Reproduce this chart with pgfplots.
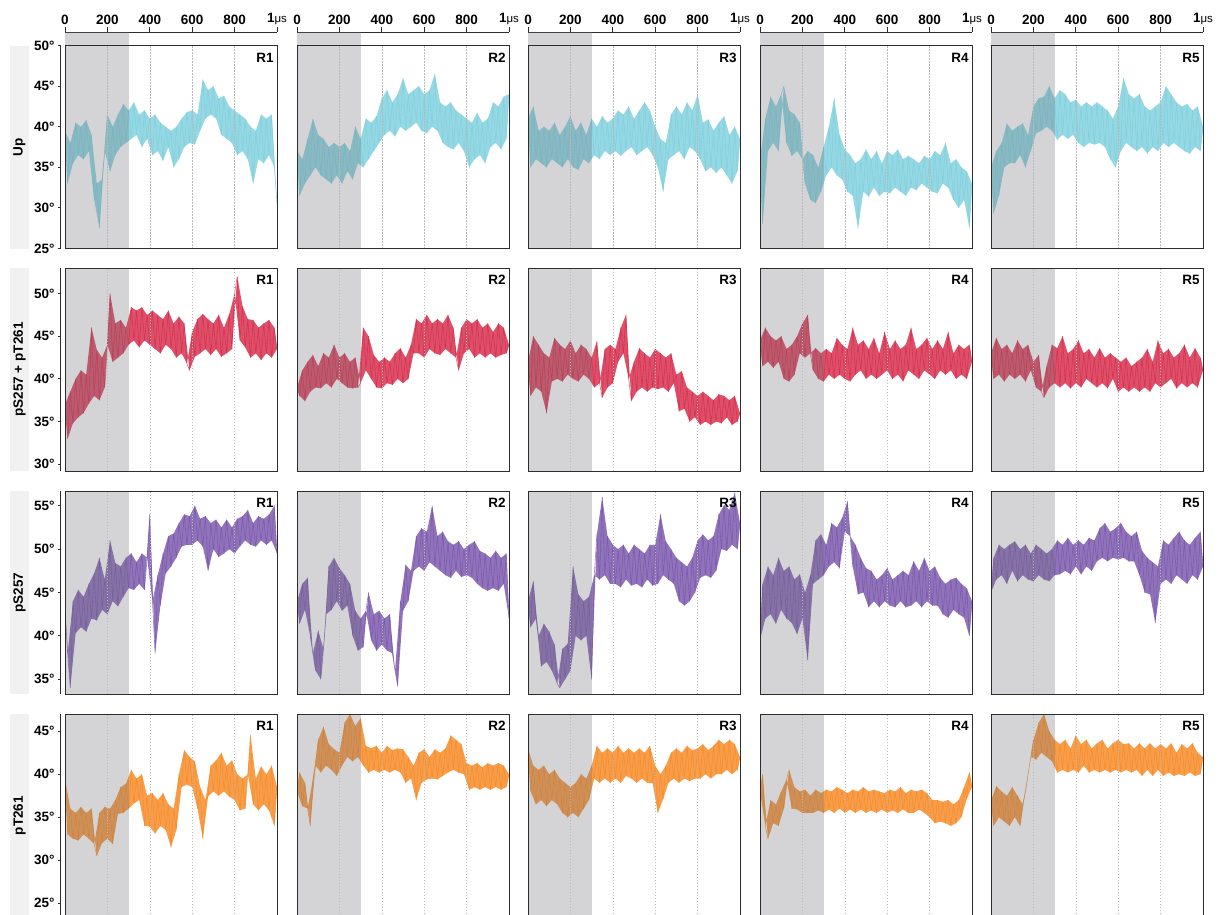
\documentclass[border=0pt]{standalone}
\usepackage{pgfplots}
\pgfplotsset{compat=1.18}
\usepgfplotslibrary{fillbetween}
\usepackage{pgfplotstable}
\usepackage{fontspec}
\setmainfont{Liberation Sans}

\definecolor{cUp}{RGB}{122,206,220}
\definecolor{cPP}{RGB}{213,36,68}
\definecolor{cPS}{RGB}{116,80,168}
\definecolor{cPT}{RGB}{246,134,30}
\definecolor{shadecol}{RGB}{112,114,120}
\definecolor{stripcol}{RGB}{241,241,241}
\definecolor{framecol}{RGB}{45,45,45}

\pgfplotstableread{
x U1 U2 U3 U4 U5
0 39.5 37 41 36 35
12.5 33 31.5 35 28 29.3
25 38 36 42.5 41 37
37.5 35.5 33 36 37 31.5
50 40.5 38.5 39.5 43.7 38
62.5 36.5 34 35.5 38 35
75 40 41 40 42.5 40.4
87.5 36 35 35 37 35.5
100 40.8 39 39.5 44 39.5
112.5 37 34 36 45 35.5
125 39 38.5 40.5 38 40
137.5 31 33.5 35.5 42 36.5
150 33 37.5 39 36.4 40.4
162.5 27.5 33 35 41.5 35
175 33.5 38 40 37 39
187.5 37 34 36 40.5 37
200 41.5 37.5 41.3 36 42.5
212.5 34.5 33 35 33 39.2
225 40 38 39.5 37 43.5
237.5 36.5 34.5 34.7 31 39.5
250 41.5 37 40.5 36.5 43.7
262.5 37.5 33.5 36 30.6 40
275 42.8 40 39 35 45
287.5 38 35.5 35.5 32 39.5
300 42 38.5 41 37.5 43.5
312.5 38.5 35 36.5 34 38.4
325 43 41 40 40 44.5
337.5 39 36 36 35 39
350 41.5 40.5 41.3 43.5 44
362.5 37.5 37 37 34 38.5
375 42 41.3 40.5 39 43
387.5 38.5 38 36.5 33.5 39
400 41 43.5 41 37.2 43.3
412.5 36.5 39 37 32 38
425 41.5 44.5 42 36.5 42.5
437.5 37 39.5 36.4 31.5 37.5
450 40.5 43 41.5 35.5 43
462.5 35.8 38.8 37 27.5 38
475 40 44 42.5 36 42.5
487.5 37.5 40 37.5 32 37.8
500 39.5 46 41 37.2 43
512.5 35 39.5 36.5 31.4 38
525 40 44 42 36 42.5
537.5 36 40 37 32.5 37.5
550 41 44.5 43 37 42
562.5 37.5 40.5 37.5 31.5 36
575 41.8 45 42 35.5 41
587.5 38 39.5 36.5 32 35
600 42 44 40 37 42.5
612.5 37.8 39.2 35 31.8 37
625 41.5 44.5 38.5 36.5 46
637.5 39.5 40 32 32.5 38
650 45.8 46.5 38 37.2 44
662.5 41 39.5 36 32 37.5
675 44.5 43 41.5 36 43.5
687.5 41.5 38 36.5 31.5 37
700 45 42.5 42.5 36.4 44
712.5 41 37.5 37 32.5 37.5
725 43.5 43 41.5 36 42.5
737.5 39 37.2 36 32.2 36.7
750 43.8 42 43 35.5 42
762.5 38.5 38 37.5 33 37.5
775 42.5 41.5 42 36.4 42.5
787.5 38 37 37 32.5 37
800 42 41 44 36 43
812.5 36.5 35 36 32 38
825 41.5 40.5 40.5 37 45
837.5 37 36 34.5 31.8 37.5
850 41 41.7 40.9 36.5 44
862.5 36 36.5 35 33 38
875 40 40.5 39.5 38 43
887.5 33 35.5 34.3 32.5 37.5
900 39.5 41 40.5 35.5 42.5
912.5 36 37.5 35 31 37
925 41.5 43 41.3 36 42.8
937.5 35.5 38 34 30 36.7
950 41 42.5 39 35 42
962.5 36.5 37.2 33 31 37.5
975 41.5 43.7 40 34.5 42.5
987.5 35 38.5 34.5 27.5 37
1000 30.5 44 38.5 33 40
}\tabUp

\pgfplotstableread{
x P1 P2 P3 P4 P5
0 37 39 42 44.5 43
12.5 33 38 38 41.5 40
25 38.5 41 45 46 44.8
37.5 34.8 37.4 39 42 40.5
50 40 42 44 45 43.5
62.5 35.5 38.5 38.5 41.3 39.7
75 41 42.8 43 44.5 44
87.5 36 39 36 42 40.5
100 40.5 41.5 42.5 45 43
112.5 37.1 38.9 39.7 40 40
125 46 43 44.8 43.5 44.5
137.5 38 39.5 40 39.7 40.5
150 43.4 42.5 44 44 43.5
162.5 37.5 39 39.7 40.5 39.7
175 42.5 44 43.5 45 44
187.5 39 40 40.5 43 41
200 44 42.5 44.5 46.5 42
212.5 50 39.5 40 42.5 39
225 42 43 43 47.5 42.8
237.5 46.5 39 39.7 43 38.5
250 42.5 42 44 41 37.8
262.5 46.9 38.9 40.5 43.6 41.5
275 43 42.5 43.5 40 39
287.5 46 39 40 43 44
300 44 39.5 42.5 39.7 39.5
312.5 48.4 46 39 43.5 43.6
325 44.5 41 44.4 40.5 39
337.5 48 45 39.5 43 45
350 43.7 40 37.8 40 39.5
362.5 48.4 42.8 43.5 44.8 43
375 44.5 39 39 40.5 38.9
387.5 47.5 42 44 44 43.5
400 44 38.9 39.5 40 39.5
412.5 48 42.5 43.5 43.5 44.5
425 43.5 39.5 42 39.7 39
437.5 47.5 42 46 46 43
450 43 39.3 43 40.5 40
462.5 47 43 47.5 44 43.5
475 44 40 40 41 39.5
487.5 48 43.6 37.4 44.5 42.5
500 43.5 39.5 42 40 39
512.5 46.5 42.5 38.5 43.5 43.6
525 42.5 40 43.6 40.5 39.5
537.5 47.3 44 39 44.8 42.5
550 43 43 43 40 38.9
562.5 46.5 47 38.5 43 43
575 41.8 43 42.5 40.5 40
587.5 41 46.5 39 45.5 42.5
600 45.5 42.5 43.5 41 38.5
612.5 42.6 47.5 38.8 43.5 42
625 47 43.5 43 40 39
637.5 43 46.5 39 44.5 42.5
650 47.6 43 42.5 40.5 38.5
662.5 43.5 47 38.5 43.5 41.5
675 47 42.8 43 39.7 39
687.5 42.8 46.5 39.5 44 42
700 46.5 43.5 40.5 41 38.5
712.5 43.5 47.5 36.2 46 42.5
725 47.5 43 40.9 40.5 39
737.5 42.6 46 36.5 43.5 43.5
750 46 42.5 39 40 38.5
762.5 43 41 35 44 42
775 47.6 46 38.5 41 39.5
787.5 43.5 43 35.5 44.8 44.5
800 50 47 38 40.5 39
812.5 52 43.5 34.6 43.5 43
825 44.5 46.5 38.5 40 39.5
837.5 48.5 42.5 35 44.5 43.5
850 43.7 47 38 41 40
862.5 47 43 34.6 43.5 42.5
875 42.5 46 37.5 40.5 38.9
887.5 46.9 42.5 35 45.5 43
900 43 46.5 38.2 41 39.5
912.5 46 43 34.8 43 44
925 42.2 45.5 38 40 39
937.5 46.5 42.5 35.5 44 42.5
950 43 46.5 37.5 40.5 39.5
962.5 46.9 42.8 34.6 43.5 43.6
975 42.5 46 38 40 39
987.5 46 43 35 44 42.5
1000 43.5 44 36 42 41
}\tabPP

\pgfplotstableread{
x S1 S2 S3 S4 S5
0 43 44 44 39.5 45
12.5 38 41.4 41 46 49
25 34 46 46.3 42 46.5
37.5 44 43 42 48 50.5
50 40.3 46.7 40 42.5 47
62.5 45.3 40 36.5 47 50
75 41 38 41.4 41.4 46
87.5 44.5 36 37 49 50.5
100 40.5 40.6 40.5 43 47.5
112.5 46 35 36 47.5 50.9
125 42 38.5 39 42 46.3
137.5 47.2 42.5 34.5 48 50
150 41.8 48 34 41.5 47
162.5 49 43 38.5 46.5 50.5
175 43 49 35 40.2 46.5
187.5 46.5 44 39.1 47.1 49.5
200 42.5 47.8 36 42 46.3
212.5 51 42.9 48 45 50.5
225 44 47 40 37.2 47
237.5 48.4 43.5 44.8 47 50
250 43.4 46 39.5 46 46.5
262.5 48 40 44 51 49.5
275 44.5 42.9 40 46.5 46.3
287.5 49 38.3 44.5 51.7 50
300 45.5 42 35 47 47
312.5 49.5 38.7 47 50.5 51
325 45.3 42.9 51.7 48 47.1
337.5 48.5 45 46.5 53 50.5
350 46 39.5 56 48.5 47.5
362.5 49.5 42.5 47 52.5 51.3
375 45.3 38.3 51.5 47.8 47.1
387.5 49 42.9 46 53.6 50.5
400 54 39 50.5 52 48
412.5 44 42 46 55.5 51
425 38 38.3 50 51.5 47.1
437.5 47 42.5 45.6 48 50.5
450 43.5 38 50.5 50.5 48
462.5 49.5 36 46.5 44.8 51.3
475 47.2 34.2 49.5 49 47.5
487.5 51.5 44 45.8 45 51
500 48 42.9 50.5 47.8 48.6
512.5 51.8 48.2 46 43.3 52.4
525 49 44 50 47.5 49
537.5 53 47.5 45.6 44 53
550 50.3 47.5 49.5 46.5 48.6
562.5 54 51.5 46.5 43.3 52
575 50.5 48 50.5 47 49
587.5 53.8 52.4 45.8 44 52.4
600 50.5 47.5 50.5 47.8 48.8
612.5 55 52 46 43.5 53
625 51 48.5 54 46.5 49
637.5 53.5 55 47 43.3 52
650 50.3 48 50.9 47 48.6
662.5 53.8 51.5 46.5 44 51.5
675 47.5 47.5 50 47.5 48.6
687.5 53 52 46 43.3 52
700 50 47 49 47 47
712.5 53.4 50.9 44 43.5 49.8
725 49.1 46.7 48.5 48.6 45
737.5 52.5 50.5 43.5 44 49
750 49.5 47.5 48 47.5 44.8
762.5 53.4 50.9 44 43.3 48.5
775 50 46.8 49 49 41.5
787.5 52.5 50 45 44 48
800 49.5 47 51 47.5 46
812.5 53.5 50.5 46.7 43.5 51
825 50.3 46.7 51.7 48 46.5
837.5 53.8 50.9 47 43.5 50.5
850 51 46 51 46.7 46
862.5 54.5 49.8 46.7 42.5 51.3
875 50.5 45.5 51.5 46 47
887.5 53 49.5 47.5 42.1 52
900 50.3 45.2 54 46.5 46.5
912.5 53.8 49 50 43 51
925 51 45.5 55.1 46.7 46
937.5 53.5 49.8 49.8 42.5 50.5
950 50.5 45.2 54.5 46 47
962.5 54 49 50.5 42.1 51.3
975 51 46 56.5 45.5 46.5
987.5 55 49.5 50 40 52
1000 49.5 42 53 44 48
}\tabPS

\pgfplotstableread{
x T1 T2 T3 T4 T5
0 39.5 38 43 38 37
12.5 33 40.2 38 40 34
25 36 36.3 41 34 38.6
37.5 32.5 39 36.5 32.5 35
50 35.5 36 40.5 37 38
62.5 32.3 34 37 34.3 34.5
75 36.2 39.4 41 36.5 37.5
87.5 33 41 36.3 34 34
100 35.5 44 40 38 38.5
112.5 32.5 40.2 37 36 35
125 36 45.5 40.5 39.4 37.5
137.5 31.9 41 36.5 40.5 34
150 30.5 43.5 39.5 36 36.5
162.5 35.5 40.5 35.5 38.5 38
175 32 42.9 39 35.9 40
187.5 36.2 39.8 35 38 42
200 32.5 42.5 38.5 35.5 44
212.5 36 41 35.5 38.2 41.7
225 31.9 46 39 35.5 46
237.5 37 42 35 37.5 42.5
250 35.4 47 40 35.5 47
262.5 38.5 41.5 36 38.2 42
275 35.5 45.6 39.5 35.8 45
287.5 38.9 42 37 37.8 41.5
300 36 46.5 41 35.5 44
312.5 40.5 41 39.5 38.2 40.2
325 36.6 43.3 43.3 35.9 43.5
337.5 39.5 40.2 39 38 40.5
350 37 43 42.5 35.5 44
362.5 40 40.5 39.5 38.5 40.2
375 34 43.3 43 36 43
387.5 37.5 40.2 39 38.2 40.5
400 33.9 42.5 42.5 35.5 44.5
412.5 37.8 40.5 39.5 37.8 40.2
425 33.1 43.3 43.3 35.9 43.5
437.5 37 40.2 39 38.2 41
450 34 42.8 42.5 35.5 44
462.5 37.8 40.5 39.8 38 40.2
475 33.5 43 43 35.9 43
487.5 36.5 40.2 39.5 38.5 40.5
500 31.5 42.9 42.5 35.5 43.6
512.5 36 39 39 38 40.2
525 33.5 42 43 35.8 44
537.5 40 39.5 39.5 38.2 40.5
550 38.5 41 42.5 35.5 43
562.5 42.8 37 39 38 40.2
575 38.8 42.5 43.3 35.9 43.6
587.5 42 39 39 37.8 40.5
600 38.5 42.9 41 35.5 44
612.5 41.5 39.4 35.5 38.2 40.2
625 36 42 40 35.8 43.5
637.5 38.5 39.5 37.1 38 40.5
650 32.5 42.9 41 35.5 43.6
662.5 37 39.4 39 38.5 40.2
675 37.4 42.5 42.5 35.9 43
687.5 41 39.8 39.5 37.8 40.5
700 38 43 43 35.5 43.6
712.5 41.6 40.2 39 38.2 39.8
725 37.5 44.5 42.5 35.5 43
737.5 42.5 40.5 39.5 38 40.5
750 38 44 43.3 35.9 43.6
762.5 41 40.2 39.2 38.2 39.8
775 37.4 43.5 42.8 35.5 43
787.5 41.6 40 39.5 37.8 40.5
800 37 41.3 43 35 43.5
812.5 40 38.2 39.5 37 39.8
825 35.8 41 43.5 34.3 43
837.5 39.5 38.5 40 37 40.2
850 36 41.3 42.8 34.5 43.6
862.5 40 38.2 39.5 36.8 39.8
875 44.5 40.8 43.3 34.3 42.5
887.5 36.5 38.5 40 37 40
900 39.5 41.3 44 34 43.5
912.5 35.8 38.2 40 36.5 39.8
925 40.9 41 43.5 34.3 43
937.5 36.5 38.5 40.5 37 40.2
950 40 41.3 44 35 43.6
962.5 35.8 38.2 40 38.5 39.8
975 41 41 43.5 37.1 42.5
987.5 34 38.5 40.5 40.2 40
1000 38.5 40 42 38.5 42
}\tabPT

\newcommand\lf{\bfseries\fontsize{13.5}{14}\selectfont}

\pgfplotsset{
  panel/.style={scale only axis, width=212pt, height=203pt, xmin=0, xmax=1000,
    anchor=north west, xtick={200,400,600,800}, xticklabels={}, ytick=\empty,
    major tick length=0pt, xmajorgrids, axis on top,
    grid style={black!28, line width=0.5pt, dash pattern=on 1.5pt off 1.5pt},
    axis line style={framecol, line width=1pt}},
  topax/.style={scale only axis, width=212pt, height=13pt, anchor=north west,
    xmin=0, xmax=1000, ymin=0, ymax=1, axis x line*=top, axis y line=none,
    xtick={0,200,400,600,800,1000},
    xticklabels={0,200,400,600,800,{1{\mdseries\fontsize{11.5}{12}\selectfont μs}}},
    tick align=outside, major tick length=5pt,
    xticklabel style={font=\lf, yshift=-1.5pt},
    axis line style={framecol, line width=1pt}, tick style={framecol, line width=1pt}},
  yax/.style={scale only axis, width=4pt, height=203pt, anchor=north west,
    xmin=0, xmax=1, axis y line*=left, axis x line=none,
    tick align=outside, major tick length=3pt,
    yticklabel style={font=\lf},
    axis line style={framecol, line width=1pt}, tick style={framecol, line width=1pt}},
}

\newcommand{\panel}[8]{%
\begin{axis}[panel, at={(#1pt,-#2pt)}, ymin=#3, ymax=#4]
\addplot[draw=none, name path=ev, unbounded coords=discard,
  x filter/.expression={mod(\coordindex,2)==0 ? x : nan}] table[x=x, y=#6] {#5};
\addplot[draw=none, name path=od, unbounded coords=discard,
  x filter/.expression={mod(\coordindex,2)==1 ? x : nan}] table[x=x, y=#6] {#5};
\addplot[#7, fill opacity=0.8, draw=none] fill between[of=ev and od];
\addplot[#7, line width=0.6pt, opacity=0.7, line join=round] table[x=x, y=#6] {#5};
\fill[shadecol, opacity=0.3] (axis cs:0,#3) rectangle (axis cs:300,#4);
\node[anchor=north east, font=\lf, inner sep=0pt] at (axis description cs:0.985,0.965) {#8};
\end{axis}}

\newcommand{\toppanel}[1]{%
\begin{axis}[topax, at={(#1pt,-32pt)}]
\addplot[draw=none, forget plot] coordinates {(0,0)};
\fill[shadecol, opacity=0.3] (axis cs:0,0) rectangle (axis cs:300,1);
\end{axis}}

\begin{document}
\begin{tikzpicture}
% row label strips
\fill[stripcol] (10pt,-45.5pt) rectangle (29pt,-248.5pt);
\fill[stripcol] (10pt,-268pt) rectangle (29pt,-471pt);
\fill[stripcol] (10pt,-491pt) rectangle (29pt,-694pt);
\fill[stripcol] (10pt,-714pt) rectangle (29pt,-917pt);
\node[rotate=90, font=\lf] at (19.5pt,-147pt) {Up};
\node[rotate=90, font=\lf] at (19.5pt,-369.5pt) {pS257 + pT261};
\node[rotate=90, font=\lf] at (19.5pt,-592.5pt) {pS257};
\node[rotate=90, font=\lf] at (19.5pt,-815.5pt) {pT261};

% top axes
\toppanel{65}
\toppanel{297}
\toppanel{528}
\toppanel{760}
\toppanel{991}

% left y axes
\begin{axis}[yax, at={(61pt,-45.5pt)}, ymin=25, ymax=50, ytick={25,30,35,40,45,50}, yticklabels={25°,30°,35°,40°,45°,50°}]
\addplot[draw=none] coordinates {(0,30)};
\end{axis}
\begin{axis}[yax, at={(61pt,-268pt)}, ymin=29.2, ymax=53, ytick={30,35,40,45,50}, yticklabels={30°,35°,40°,45°,50°}]
\addplot[draw=none] coordinates {(0,30)};
\end{axis}
\begin{axis}[yax, at={(61pt,-491pt)}, ymin=33.3, ymax=56.7, ytick={35,40,45,50,55}, yticklabels={35°,40°,45°,50°,55°}]
\addplot[draw=none] coordinates {(0,40)};
\end{axis}
\begin{axis}[yax, at={(61pt,-714pt)}, ymin=23.4, ymax=47, ytick={25,30,35,40,45}, yticklabels={25°,30°,35°,40°,45°}]
\addplot[draw=none] coordinates {(0,30)};
\end{axis}

% Up
\panel{65}{45.5}{25}{50}{\tabUp}{U1}{cUp}{R1}
\panel{297}{45.5}{25}{50}{\tabUp}{U2}{cUp}{R2}
\panel{528}{45.5}{25}{50}{\tabUp}{U3}{cUp}{R3}
\panel{760}{45.5}{25}{50}{\tabUp}{U4}{cUp}{R4}
\panel{991}{45.5}{25}{50}{\tabUp}{U5}{cUp}{R5}
% pS257 + pT261
\panel{65}{268}{29.2}{53}{\tabPP}{P1}{cPP}{R1}
\panel{297}{268}{29.2}{53}{\tabPP}{P2}{cPP}{R2}
\panel{528}{268}{29.2}{53}{\tabPP}{P3}{cPP}{R3}
\panel{760}{268}{29.2}{53}{\tabPP}{P4}{cPP}{R4}
\panel{991}{268}{29.2}{53}{\tabPP}{P5}{cPP}{R5}
% pS257
\panel{65}{491}{33.3}{56.7}{\tabPS}{S1}{cPS}{R1}
\panel{297}{491}{33.3}{56.7}{\tabPS}{S2}{cPS}{R2}
\panel{528}{491}{33.3}{56.7}{\tabPS}{S3}{cPS}{R3}
\panel{760}{491}{33.3}{56.7}{\tabPS}{S4}{cPS}{R4}
\panel{991}{491}{33.3}{56.7}{\tabPS}{S5}{cPS}{R5}
% pT261
\panel{65}{714}{23.4}{47}{\tabPT}{T1}{cPT}{R1}
\panel{297}{714}{23.4}{47}{\tabPT}{T2}{cPT}{R2}
\panel{528}{714}{23.4}{47}{\tabPT}{T3}{cPT}{R3}
\panel{760}{714}{23.4}{47}{\tabPT}{T4}{cPT}{R4}
\panel{991}{714}{23.4}{47}{\tabPT}{T5}{cPT}{R5}

\pgfresetboundingbox
\path[use as bounding box] (0,0) rectangle (1223pt,-914pt);
\end{tikzpicture}
\end{document}
